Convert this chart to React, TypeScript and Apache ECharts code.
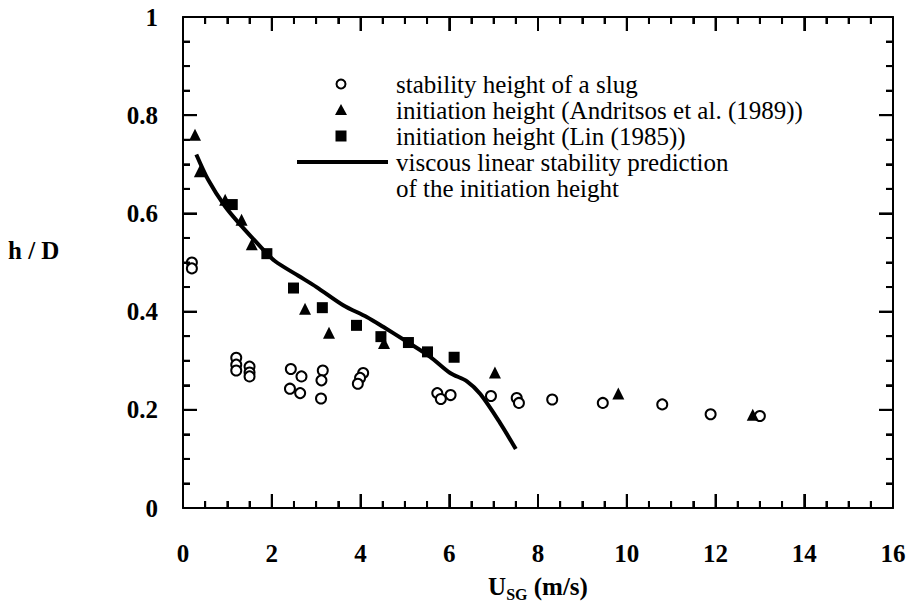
import React, { useEffect, useRef } from "react";
import * as echarts from "echarts";

// stability height of a slug (open circles)
const slugX = [0.2, 0.2, 1.2, 1.2, 1.2, 1.5, 1.5, 1.5, 2.43, 2.67, 2.41, 2.64, 3.15, 3.12, 3.11, 4.06, 3.99, 3.94, 5.73, 5.81, 6.03, 6.94, 7.52, 7.57, 8.32, 9.46, 10.8, 11.89, 13.0];
const slugY = [0.5, 0.488, 0.306, 0.292, 0.28, 0.288, 0.276, 0.268, 0.283, 0.268, 0.243, 0.234, 0.28, 0.26, 0.223, 0.275, 0.265, 0.253, 0.234, 0.222, 0.23, 0.228, 0.224, 0.214, 0.221, 0.214, 0.211, 0.191, 0.1875];

// initiation height (Andritsos et al. (1989)) (triangles)
const andX = [0.27, 0.38, 0.95, 1.32, 1.55, 2.75, 3.29, 4.53, 7.03, 9.81, 12.84];
const andY = [0.76, 0.686, 0.628, 0.587, 0.537, 0.406, 0.357, 0.336, 0.276, 0.233, 0.19];

// initiation height (Lin (1985)) (squares)
const linX = [1.11, 1.89, 2.49, 3.14, 3.91, 4.46, 5.08, 5.51, 6.11];
const linY = [0.618, 0.518, 0.448, 0.408, 0.372, 0.349, 0.337, 0.318, 0.307];

// viscous linear stability prediction (curve)
const curveX = [0.3, 0.57, 0.95, 1.32, 1.77, 2.07, 2.6, 3.01, 3.61, 4.14, 4.51, 5.04, 5.57, 6.02, 6.4, 6.7, 7.14, 7.5];
const curveY = [0.72, 0.668, 0.614, 0.574, 0.53, 0.503, 0.473, 0.45, 0.413, 0.389, 0.369, 0.339, 0.308, 0.275, 0.258, 0.232, 0.174, 0.12];

// axis tick positions (major every 2 on x, every 0.2 on y; minor in between)
const X_TICKS = [0, 0.5, 1, 1.5, 2, 2.5, 3, 3.5, 4, 4.5, 5, 5.5, 6, 6.5, 7, 7.5, 8, 8.5, 9, 9.5, 10, 10.5, 11, 11.5, 12, 12.5, 13, 13.5, 14, 14.5, 15, 15.5, 16];
const Y_TICKS = [0, 0.05, 0.1, 0.15, 0.2, 0.25, 0.3, 0.35, 0.4, 0.45, 0.5, 0.55, 0.6, 0.65, 0.7, 0.75, 0.8, 0.85, 0.9, 0.95, 1];

const legendLabels = [
  "stability height of a slug",
  "initiation height (Andritsos et al. (1989))",
  "initiation height (Lin (1985))",
  "viscous linear stability prediction",
  "of the initiation height",
];

const FONT = "Liberation Serif";
const X_MIN = 0, X_MAX = 16, Y_MIN = 0, Y_MAX = 1;

const zip = (xs: number[], ys: number[]) => xs.map((x, i) => [x, ys[i]]);

function axisParts() {
  return {
    z: 50,
    axisLine: { show: true, onZero: false, lineStyle: { color: "#000", width: 2 } },
    axisTick: { show: true, inside: true, length: 14, lineStyle: { color: "#000", width: 2 } },
    minorTick: { show: true, splitNumber: 4, length: 7, lineStyle: { color: "#000", width: 2 } },
    splitLine: { show: false },
  };
}

function labelStyle(margin: number) {
  return { fontFamily: FONT, fontSize: 25, fontWeight: "bold", color: "#000", margin };
}

const isMult = (v: number, step: number) => Math.abs(v / step - Math.round(v / step)) < 1e-6;

export default function App() {
  const ref = useRef<HTMLDivElement>(null);
  useEffect(() => {
    if (!ref.current) return;
    const chart = echarts.init(ref.current, null, { renderer: "svg" });
    const rowY0 = 84;
    const rowH = 26;
    const textX = 396;
    const markX = 341;
    const graphic: any[] = legendLabels.map((t, i) => ({
      type: "text",
      left: textX,
      top: rowY0 + i * rowH - 12,
      style: { text: t, font: `25px "${FONT}"`, lineHeight: 24, fill: "#000" },
    }));
    graphic.push(
      { type: "circle", shape: { cx: markX, cy: rowY0, r: 4.5 }, style: { fill: "#fff", stroke: "#000", lineWidth: 2 } },
      {
        type: "polygon",
        shape: { points: [[markX, rowY0 + rowH - 6], [markX - 6, rowY0 + rowH + 5], [markX + 6, rowY0 + rowH + 5]] },
        style: { fill: "#000" },
      },
      { type: "rect", shape: { x: markX - 5.5, y: rowY0 + 2 * rowH - 5.5, width: 11, height: 11 }, style: { fill: "#000" } },
      { type: "line", shape: { x1: 297, y1: rowY0 + 3 * rowH, x2: 388, y2: rowY0 + 3 * rowH }, style: { stroke: "#000", lineWidth: 4 } },
      { type: "text", left: 8, top: 238, style: { text: "h / D", font: `bold 25px "${FONT}"`, fill: "#000" } }
    );

    // tick marks on all four sides: [side, value, isMajor]
    const tickData: number[][] = [];
    X_TICKS.forEach((v) => {
      const m = isMult(v, 2) ? 1 : 0;
      tickData.push([0, v, m], [1, v, m]);
    });
    Y_TICKS.forEach((v) => {
      const m = isMult(v, 0.2) ? 1 : 0;
      tickData.push([2, v, m], [3, v, m]);
    });

    chart.setOption({
      animation: false,
      grid: { left: 183, right: 17, top: 17, bottom: 94 },
      xAxis: [
        {
          type: "value", min: X_MIN, max: X_MAX, interval: 2, position: "bottom", ...axisParts(),
          axisLabel: labelStyle(33),
          name: "{u|U}{s|SG}{u| (m/s)}",
          nameLocation: "middle",
          nameGap: 62,
          nameTextStyle: {
            rich: {
              u: { fontFamily: FONT, fontSize: 25, fontWeight: "bold", color: "#000" },
              s: { fontFamily: FONT, fontSize: 16, fontWeight: "bold", color: "#000", padding: [16, 0, 0, 0] },
            },
          },
        },
        { type: "value", min: X_MIN, max: X_MAX, interval: 2, position: "top", ...axisParts(), axisLabel: { show: false } },
      ],
      yAxis: [
        { type: "value", min: Y_MIN, max: Y_MAX, interval: 0.2, position: "left", ...axisParts(), axisLabel: labelStyle(25) },
        { type: "value", min: Y_MIN, max: Y_MAX, interval: 0.2, position: "right", ...axisParts(), axisLabel: { show: false } },
      ],
      graphic,
      series: [
        {
          type: "custom",
          silent: true,
          clip: false,
          z: 60,
          data: tickData,
          renderItem: (params: any, api: any) => {
            const side = api.value(0);
            const v = api.value(1);
            const len = api.value(2) ? 14 : 7;
            let x1 = 0, y1 = 0, x2 = 0, y2 = 0;
            if (side === 0) {
              const p = api.coord([v, Y_MIN]);
              x1 = x2 = p[0]; y1 = p[1]; y2 = p[1] - len;
            } else if (side === 1) {
              const p = api.coord([v, Y_MAX]);
              x1 = x2 = p[0]; y1 = p[1]; y2 = p[1] + len;
            } else if (side === 2) {
              const p = api.coord([X_MIN, v]);
              y1 = y2 = p[1]; x1 = p[0]; x2 = p[0] + len;
            } else {
              const p = api.coord([X_MAX, v]);
              y1 = y2 = p[1]; x1 = p[0]; x2 = p[0] - len;
            }
            return { type: "line", shape: { x1, y1, x2, y2 }, style: { stroke: "#000", fill: null, lineWidth: 2 } };
          },
        },
        {
          type: "line", data: zip(curveX, curveY), smooth: 0.3, symbol: "none",
          lineStyle: { color: "#000", width: 4 },
        },
        {
          type: "scatter", data: zip(slugX, slugY), symbol: "circle", symbolSize: 10,
          itemStyle: { color: "#fff", borderColor: "#000", borderWidth: 2, opacity: 1 },
        },
        {
          type: "scatter", data: zip(andX, andY), symbol: "triangle", symbolSize: 12,
          itemStyle: { color: "#000", opacity: 1 },
        },
        {
          type: "scatter", data: zip(linX, linY), symbol: "rect", symbolSize: 11,
          itemStyle: { color: "#000", opacity: 1 },
        },
      ],
    });
    return () => chart.dispose();
  }, []);
  return <div ref={ref} style={{ position: "fixed", left: 0, top: 0, width: 910, height: 607, background: "#fff" }} />;
}
